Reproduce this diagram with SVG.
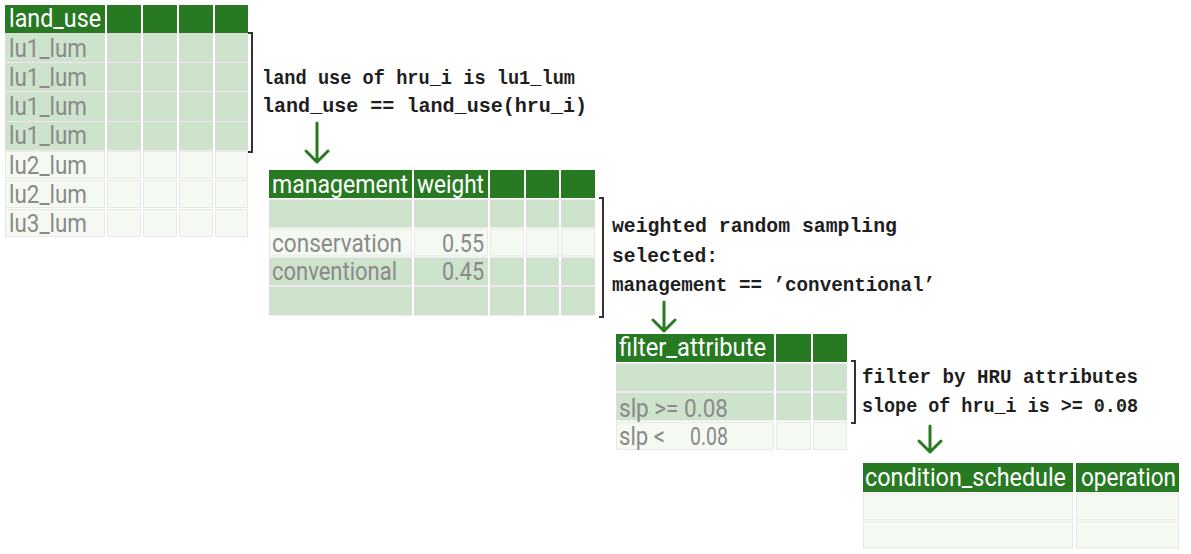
<svg xmlns="http://www.w3.org/2000/svg" width="1191" height="554" viewBox="0 0 1191 554">
  <style>
    .hd { fill: #287a22; }
    .lt { fill: #cde3cb; stroke: #d8dcd6; stroke-width: 1; }
    .pl { fill: #f4faf2; stroke: #e6e9e4; stroke-width: 1; }
    .th { font-family: Roboto, "Liberation Sans", sans-serif; font-size: 26.5px; fill: #ffffff; }
    .td { font-family: Roboto, "Liberation Sans", sans-serif; font-size: 26.5px; fill: #8a8a8a; }
    .note { font-family: "Liberation Mono", "DejaVu Sans Mono", monospace; font-weight: bold; font-size: 20.5px; fill: #1e1e1e; }
    .brk { fill: none; stroke: #333333; stroke-width: 2; }
    .arr { fill: none; stroke: #2a7a22; stroke-width: 3; stroke-linecap: round; stroke-linejoin: round; }
  </style>
  <rect width="1191" height="554" fill="#ffffff"/>

  <!-- land_use table -->
  <g id="land_use_table">
    <rect class="hd" x="5" y="5" width="100" height="28"/>
    <rect class="hd" x="107" y="5" width="34" height="28"/>
    <rect class="hd" x="143" y="5" width="34" height="28"/>
    <rect class="hd" x="179" y="5" width="34" height="28"/>
    <rect class="hd" x="215" y="5" width="33" height="28"/>
    <g class="lt">
      <rect x="5.5" y="33.5" width="99" height="28"/><rect x="107.5" y="33.5" width="33" height="28"/><rect x="143.5" y="33.5" width="33" height="28"/><rect x="179.5" y="33.5" width="33" height="28"/><rect x="215.5" y="33.5" width="32" height="28"/>
      <rect x="5.5" y="63" width="99" height="28"/><rect x="107.5" y="63" width="33" height="28"/><rect x="143.5" y="63" width="33" height="28"/><rect x="179.5" y="63" width="33" height="28"/><rect x="215.5" y="63" width="32" height="28"/>
      <rect x="5.5" y="92.5" width="99" height="28"/><rect x="107.5" y="92.5" width="33" height="28"/><rect x="143.5" y="92.5" width="33" height="28"/><rect x="179.5" y="92.5" width="33" height="28"/><rect x="215.5" y="92.5" width="32" height="28"/>
      <rect x="5.5" y="122" width="99" height="28"/><rect x="107.5" y="122" width="33" height="28"/><rect x="143.5" y="122" width="33" height="28"/><rect x="179.5" y="122" width="33" height="28"/><rect x="215.5" y="122" width="32" height="28"/>
    </g>
    <g class="pl">
      <rect x="5.5" y="151.5" width="99" height="27"/><rect x="107.5" y="151.5" width="33" height="27"/><rect x="143.5" y="151.5" width="33" height="27"/><rect x="179.5" y="151.5" width="33" height="27"/><rect x="215.5" y="151.5" width="32" height="27"/>
      <rect x="5.5" y="180.5" width="99" height="27"/><rect x="107.5" y="180.5" width="33" height="27"/><rect x="143.5" y="180.5" width="33" height="27"/><rect x="179.5" y="180.5" width="33" height="27"/><rect x="215.5" y="180.5" width="32" height="27"/>
      <rect x="5.5" y="209.5" width="99" height="27"/><rect x="107.5" y="209.5" width="33" height="27"/><rect x="143.5" y="209.5" width="33" height="27"/><rect x="179.5" y="209.5" width="33" height="27"/><rect x="215.5" y="209.5" width="32" height="27"/>
    </g>
    <text class="th" x="9" y="27" textLength="92" lengthAdjust="spacingAndGlyphs">land_use</text>
    <text class="td" x="9" y="57" textLength="78" lengthAdjust="spacingAndGlyphs">lu1_lum</text>
    <text class="td" x="9" y="86" textLength="78" lengthAdjust="spacingAndGlyphs">lu1_lum</text>
    <text class="td" x="9" y="115" textLength="78" lengthAdjust="spacingAndGlyphs">lu1_lum</text>
    <text class="td" x="9" y="144" textLength="78" lengthAdjust="spacingAndGlyphs">lu1_lum</text>
    <text class="td" x="9" y="174" textLength="78" lengthAdjust="spacingAndGlyphs">lu2_lum</text>
    <text class="td" x="9" y="203" textLength="78" lengthAdjust="spacingAndGlyphs">lu2_lum</text>
    <text class="td" x="9" y="232" textLength="78" lengthAdjust="spacingAndGlyphs">lu3_lum</text>
  </g>

  <!-- land use selection note -->
  <g id="note_land_use">
    <path class="brk" d="M248,33 H252 V152 H248"/>
    <text class="note" x="262" y="84" textLength="313" lengthAdjust="spacingAndGlyphs">land use of hru_i is lu1_lum</text>
    <text class="note" x="262" y="112" textLength="325" lengthAdjust="spacingAndGlyphs">land_use == land_use(hru_i)</text>
  </g>

  <!-- management table -->
  <g id="management_table">
    <rect class="hd" x="269" y="170" width="143" height="28"/>
    <rect class="hd" x="414" y="170" width="74" height="28"/>
    <rect class="hd" x="490" y="170" width="34" height="28"/>
    <rect class="hd" x="526" y="170" width="33" height="28"/>
    <rect class="hd" x="561" y="170" width="34" height="28"/>
    <g class="lt">
      <rect x="269.5" y="200" width="142" height="27"/><rect x="414.5" y="200" width="73" height="27"/><rect x="490.5" y="200" width="33" height="27"/><rect x="526.5" y="200" width="32" height="27"/><rect x="561.5" y="200" width="33" height="27"/>
      <rect x="269.5" y="258" width="142" height="27"/><rect x="414.5" y="258" width="73" height="27"/><rect x="490.5" y="258" width="33" height="27"/><rect x="526.5" y="258" width="32" height="27"/><rect x="561.5" y="258" width="33" height="27"/>
      <rect x="269.5" y="287" width="142" height="28"/><rect x="414.5" y="287" width="73" height="28"/><rect x="490.5" y="287" width="33" height="28"/><rect x="526.5" y="287" width="32" height="28"/><rect x="561.5" y="287" width="33" height="28"/>
    </g>
    <g class="pl">
      <rect x="269.5" y="229" width="142" height="27"/><rect x="414.5" y="229" width="73" height="27"/><rect x="490.5" y="229" width="33" height="27"/><rect x="526.5" y="229" width="32" height="27"/><rect x="561.5" y="229" width="33" height="27"/>
    </g>
    <text class="th" x="272" y="193" textLength="136" lengthAdjust="spacingAndGlyphs">management</text>
    <text class="th" x="417" y="193" textLength="67" lengthAdjust="spacingAndGlyphs">weight</text>
    <text class="td" x="272" y="252" textLength="130" lengthAdjust="spacingAndGlyphs">conservation</text>
    <text class="td" x="442" y="252" textLength="42" lengthAdjust="spacingAndGlyphs">0.55</text>
    <text class="td" x="272" y="280" textLength="125" lengthAdjust="spacingAndGlyphs">conventional</text>
    <text class="td" x="442" y="280" textLength="42" lengthAdjust="spacingAndGlyphs">0.45</text>
  </g>

  <!-- management selection note -->
  <g id="note_management">
    <path class="brk" d="M599,198 H603 V317 H599"/>
    <text class="note" x="612" y="232" textLength="285" lengthAdjust="spacingAndGlyphs">weighted random sampling</text>
    <text class="note" x="612" y="262" textLength="106" lengthAdjust="spacingAndGlyphs">selected:</text>
    <text class="note" x="612" y="291" textLength="323" lengthAdjust="spacingAndGlyphs">management == ’conventional’</text>
  </g>

  <!-- filter_attribute table -->
  <g id="filter_table">
    <rect class="hd" x="616" y="334" width="158" height="28"/>
    <rect class="hd" x="776" y="334" width="35" height="28"/>
    <rect class="hd" x="813" y="334" width="34" height="28"/>
    <g class="lt">
      <rect x="616.5" y="364" width="157" height="27"/><rect x="776.5" y="364" width="34" height="27"/><rect x="813.5" y="364" width="33" height="27"/>
      <rect x="616.5" y="393" width="157" height="27"/><rect x="776.5" y="393" width="34" height="27"/><rect x="813.5" y="393" width="33" height="27"/>
    </g>
    <g class="pl">
      <rect x="616.5" y="422.5" width="157" height="27"/><rect x="776.5" y="422.5" width="34" height="27"/><rect x="813.5" y="422.5" width="33" height="27"/>
    </g>
    <text class="th" x="619" y="356" textLength="147" lengthAdjust="spacingAndGlyphs">filter_attribute</text>
    <text class="td" x="619" y="417" textLength="109" lengthAdjust="spacingAndGlyphs">slp &gt;= 0.08</text>
    <text class="td" y="445"><tspan x="619" textLength="46" lengthAdjust="spacingAndGlyphs">slp &lt;</tspan><tspan x="690" textLength="38" lengthAdjust="spacingAndGlyphs">0.08</tspan></text>
  </g>

  <!-- filter note -->
  <g id="note_filter">
    <path class="brk" d="M851,361 H855 V423 H851"/>
    <text class="note" x="862" y="383" textLength="276" lengthAdjust="spacingAndGlyphs">filter by HRU attributes</text>
    <text class="note" x="862" y="412" textLength="276" lengthAdjust="spacingAndGlyphs">slope of hru_i is &gt;= 0.08</text>
  </g>

  <!-- condition_schedule table -->
  <g id="schedule_table">
    <rect class="hd" x="863" y="463" width="210" height="29"/>
    <rect class="hd" x="1076" y="463" width="103" height="29"/>
    <g class="pl">
      <rect x="863.5" y="494" width="209" height="26"/><rect x="1076.5" y="494" width="102" height="26"/>
      <rect x="863.5" y="522" width="209" height="26"/><rect x="1076.5" y="522" width="102" height="26"/>
    </g>
    <text class="th" x="865" y="486" textLength="201" lengthAdjust="spacingAndGlyphs">condition_schedule</text>
    <text class="th" x="1081" y="486" textLength="95" lengthAdjust="spacingAndGlyphs">operation</text>
  </g>

  <!-- step arrows -->
  <g id="connectors">
    <path class="arr" d="M317,123 V162 M306,151 L317,162 L328,151"/>
    <path class="arr" d="M664,302 V331 M653,320 L664,331 L675,320"/>
    <path class="arr" d="M930,426 V452 M919,441 L930,452 L941,441"/>
  </g>
</svg>
